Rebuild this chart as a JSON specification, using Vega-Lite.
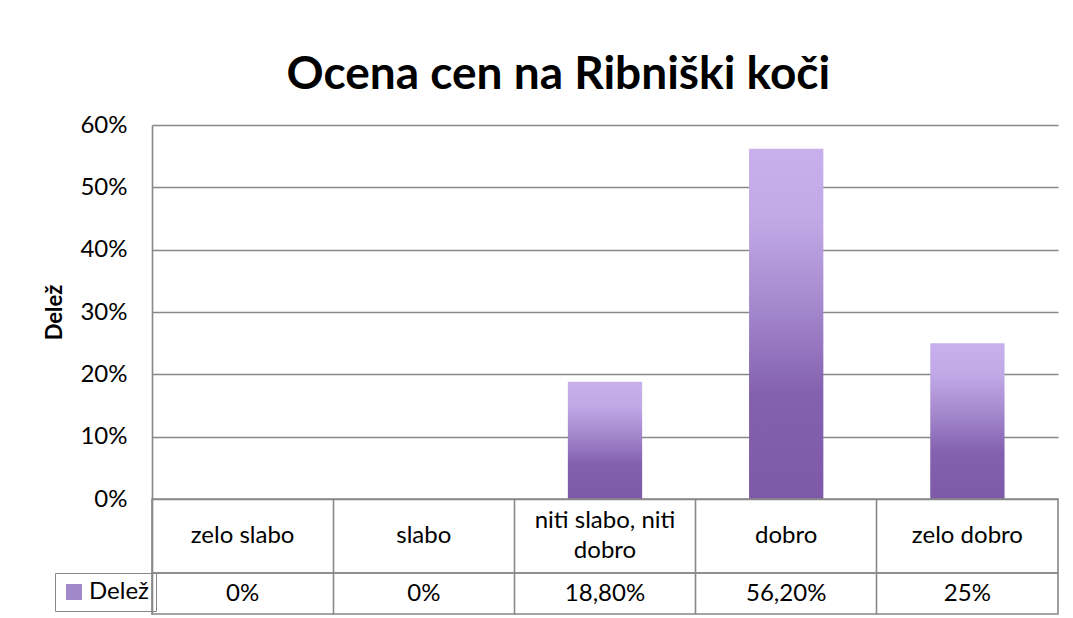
{
  "$schema": "https://vega.github.io/schema/vega-lite/v6.json",
  "background": "white",
  "padding": {"left": 43, "top": 52, "right": 10, "bottom": 0},
  "spacing": 0,
  "bounds": "flush",
  "title": {"text": "Ocena cen na Ribniški koči", "font": "Lato", "fontSize": 46, "fontWeight": "bold", "color": "black", "anchor": "middle", "offset": 14, "dx": 7},
  "config": {"font": "Lato", "view": {"stroke": null}},
  "datasets": {
    "ocene": [
      {"kategorija": "zelo slabo", "delez": 0, "prikaz": "0%", "serija": "Delež"},
      {"kategorija": "slabo", "delez": 0, "prikaz": "0%", "serija": "Delež"},
      {"kategorija": "niti slabo, niti\ndobro", "delez": 0.188, "prikaz": "18,80%", "serija": "Delež"},
      {"kategorija": "dobro", "delez": 0.562, "prikaz": "56,20%", "serija": "Delež"},
      {"kategorija": "zelo dobro", "delez": 0.25, "prikaz": "25%", "serija": "Delež"}
    ]
  },
  "vconcat": [
    {
      "width": 906,
      "height": 374,
      "data": {"name": "ocene"},
      "encoding": {
        "x": {"field": "kategorija", "type": "nominal", "sort": null, "axis": null, "scale": {"paddingInner": 0.59, "paddingOuter": 0.295}},
        "y": {
          "field": "delez", "type": "quantitative",
          "scale": {"domain": [0, 0.6]},
          "axis": {
            "format": ".0%", "values": [0, 0.1, 0.2, 0.3, 0.4, 0.5, 0.6],
            "title": "Delež", "titleFontSize": 22, "titleFontWeight": "bold", "titleColor": "black", "titleFont": "Lato", "titlePadding": 13,
            "labelFontSize": 24, "labelColor": "black", "labelFont": "Lato", "labelPadding": 25,
            "ticks": false, "domainColor": "#888888", "domainWidth": 1.6,
            "grid": true, "gridColor": "#888888", "gridWidth": 1.6
          }
        }
      },
      "layer": [
        {
          "mark": {"type": "bar", "fill": {"gradient": "linear", "x1": 0, "y1": 1, "x2": 0, "y2": 0, "stops": [
            {"offset": 0, "color": "#7d59a8"},
            {"offset": 0.3, "color": "#8461af"},
            {"offset": 0.55, "color": "#a488cd"},
            {"offset": 0.8, "color": "#c1a9e6"},
            {"offset": 1, "color": "#c7b0ec"}
          ]}}
        },
        {
          "mark": {"type": "bar", "fillOpacity": 0},
          "encoding": {
            "fill": {
              "field": "serija", "type": "nominal",
              "scale": {"range": ["#a088c9"]},
              "legend": {
                "title": null, "orient": "none", "legendX": -97, "legendY": 448,
                "symbolType": "square", "symbolSize": 256, "symbolStrokeWidth": 0, "symbolOpacity": 1,
                "labelFontSize": 24, "labelFont": "Lato", "labelColor": "black", "labelOffset": 3,
                "strokeColor": "#888888", "padding": 7
              }
            }
          }
        }
      ]
    },
    {
      "width": 906,
      "height": 74,
      "view": {"stroke": "#888888", "strokeWidth": 1.6},
      "data": {"name": "ocene"},
      "encoding": {
        "x": {"field": "kategorija", "type": "nominal",
          "scale": {"type": "band", "paddingInner": 0, "paddingOuter": 0, "domain": ["zelo slabo", "slabo", "niti slabo, niti\ndobro", "dobro", "zelo dobro"]},
          "axis": {"grid": true, "bandPosition": 0, "gridColor": "#888888", "gridWidth": 1.6, "domain": false, "ticks": false, "labels": false, "title": null}},
        "text": {"field": "kategorija"}
      },
      "layer": [
        {
          "transform": [{"filter": "indexof(datum.kategorija, '\\n') < 0"}],
          "mark": {"type": "text", "fontSize": 24, "font": "Lato", "color": "black", "baseline": "middle"}
        },
        {
          "transform": [{"filter": "indexof(datum.kategorija, '\\n') >= 0"}],
          "mark": {"type": "text", "fontSize": 24, "font": "Lato", "color": "black", "lineBreak": "\n", "lineHeight": 30, "baseline": "middle", "dy": -15}
        }
      ]
    },
    {
      "width": 906,
      "height": 41,
      "view": {"stroke": "#888888", "strokeWidth": 1.6},
      "data": {"name": "ocene"},
      "mark": {"type": "text", "fontSize": 24, "font": "Lato", "color": "black", "baseline": "middle"},
      "encoding": {
        "x": {"field": "kategorija", "type": "nominal", "sort": null,
          "scale": {"type": "band", "paddingInner": 0, "paddingOuter": 0},
          "axis": {"grid": true, "bandPosition": 0, "gridColor": "#888888", "gridWidth": 1.6, "domain": false, "ticks": false, "labels": false, "title": null}},
        "text": {"field": "prikaz"}
      }
    }
  ]
}
